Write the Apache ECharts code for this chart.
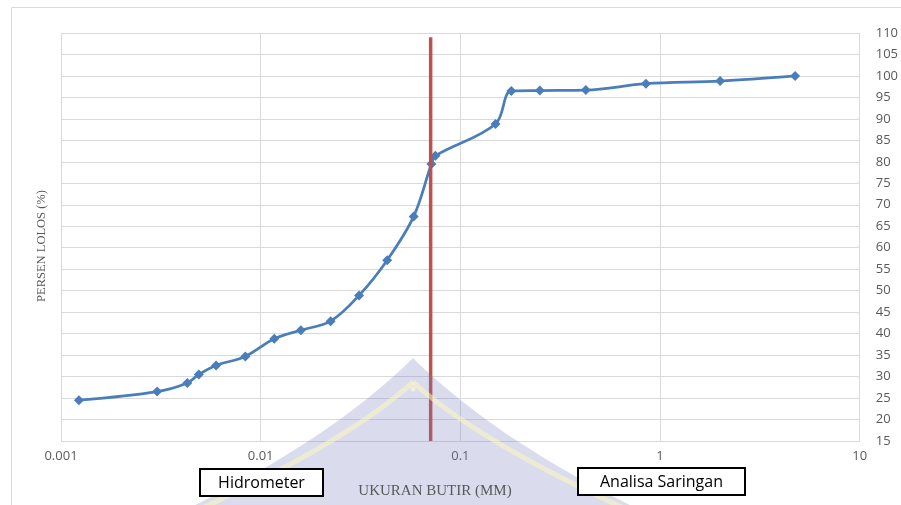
<!DOCTYPE html>
<html><head><meta charset="utf-8">
<script src="https://cdn.jsdelivr.net/npm/echarts@6/dist/echarts.min.js"></script>
<style>html,body{margin:0;padding:0;background:#fff}#c{width:901px;height:505px}</style>
</head><body><div id="c"></div>
<script>
// Grain size (mm) and percent passing
const diameters = [0.00123, 0.00303, 0.00429, 0.0049, 0.00598, 0.00838, 0.0117, 0.0159, 0.0224, 0.0311, 0.043, 0.0584, 0.0716, 0.075, 0.15, 0.18, 0.25, 0.425, 0.85, 2.0, 4.75];
const percents  = [24.5, 26.5, 28.5, 30.5, 32.6, 34.7, 38.8, 40.8, 42.9, 48.9, 57.1, 67.3, 79.5, 81.4, 88.8, 96.5, 96.6, 96.7, 98.2, 98.8, 100];
const boundaryX = [0.071, 0.071];
const boundaryY = [15, 109];
const xTicks = [0.001, 0.01, 0.1, 1, 10];
const yMin = 15, yMax = 110, yStep = 5;
const labelsBox = ["Hidrometer", "Analisa Saringan"];
const xTitle = "UKURAN BUTIR (MM)";
const yTitle = "PERSEN LOLOS (%)";

function quad(p0, c, p1, n) {
  const pts = [];
  for (let i = 0; i <= n; i++) {
    const t = i / n, u = 1 - t;
    pts.push([u*u*p0[0] + 2*u*t*c[0] + t*t*p1[0], u*u*p0[1] + 2*u*t*c[1] + t*t*p1[1]]);
  }
  return pts;
}
const roof = quad([185,510],[330,440],[413,358],30).concat(quad([413,358],[496,440],[640,510],30));

const chart = echarts.init(document.getElementById('c'));
const gray = '#595959';
chart.setOption({
  animation: false,
  grid: {left: 61, right: 39, top: 33, bottom: 64},
  xAxis: {
    type: 'log', logBase: 10, min: xTicks[0], max: xTicks[xTicks.length-1],
    axisLine: {show: false}, axisTick: {show: false},
    splitLine: {show: true, lineStyle: {color: '#d9d9d9', width: 1}},
    minorSplitLine: {show: false},
    axisLabel: {color: gray, fontFamily: 'Open Sans', fontSize: 13, margin: 9,
      formatter: v => String(v)}
  },
  yAxis: {
    type: 'value', position: 'right', min: yMin, max: yMax, interval: yStep,
    axisLine: {show: false}, axisTick: {show: false},
    splitLine: {show: true, lineStyle: {color: '#d9d9d9', width: 1}},
    axisLabel: {color: gray, fontFamily: 'Open Sans', fontSize: 13, margin: 16, align: 'left'}
  },
  graphic: [
    {type: 'rect', shape: {x: 11.5, y: 7.5, width: 900, height: 510}, style: {fill: 'none', stroke: '#d9d9d9', lineWidth: 1}, silent: true, z: -1},
    {type: 'text', x: 42, y: 246, rotation: Math.PI/2, style: {text: yTitle, fill: gray, font: '12.5px "Liberation Serif"', align: 'center', verticalAlign: 'middle'}},
    // watermark
    {type: 'polygon', silent: true, z: 10, shape: {points: roof},
      style: {fill: 'rgba(120,125,190,0.27)', stroke: 'none'}},
    {type: 'bezierCurve', silent: true, z: 11,
      shape: {x1: 413, y1: 382, cpx1: 350, cpy1: 440, x2: 198, y2: 510},
      style: {fill: 'none', stroke: 'rgba(255,248,190,0.55)', lineWidth: 5}},
    {type: 'bezierCurve', silent: true, z: 11,
      shape: {x1: 413, y1: 382, cpx1: 476, cpy1: 440, x2: 628, y2: 510},
      style: {fill: 'none', stroke: 'rgba(255,248,190,0.55)', lineWidth: 5}},
    {type: 'circle', silent: true, z: 11, shape: {cx: 413, cy: 389, r: 2.5}, style: {fill: 'rgba(255,250,210,0.6)'}},
    {type: 'text', x: 435, y: 491, z: 12, style: {text: xTitle, fill: gray, font: '15px "Liberation Serif"', align: 'center', verticalAlign: 'middle'}},
    {type: 'rect', z: 12, shape: {x: 200, y: 469, width: 123, height: 27}, style: {fill: '#fff', stroke: '#000', lineWidth: 2}},
    {type: 'text', z: 13, x: 261.5, y: 483, style: {text: labelsBox[0], fill: '#000', font: '16px "Open Sans"', align: 'center', verticalAlign: 'middle'}},
    {type: 'rect', z: 12, shape: {x: 578, y: 468, width: 167, height: 27}, style: {fill: '#fff', stroke: '#000', lineWidth: 2}},
    {type: 'text', z: 13, x: 661.5, y: 482, style: {text: labelsBox[1], fill: '#000', font: '16px "Open Sans"', align: 'center', verticalAlign: 'middle'}}
  ],
  series: [
    {
      type: 'line', data: diameters.map((d, i) => [d, percents[i]]),
      smooth: 0.35, symbol: 'diamond', symbolSize: 10,
      lineStyle: {color: '#4A7EBB', width: 2.75},
      itemStyle: {color: '#4A7EBB'}, z: 3
    },
    {
      type: 'line', data: boundaryX.map((d, i) => [d, boundaryY[i]]),
      symbol: 'none', lineStyle: {color: '#C0504D', width: 3.5}, z: 4
    }
  ]
});
</script></body></html>
